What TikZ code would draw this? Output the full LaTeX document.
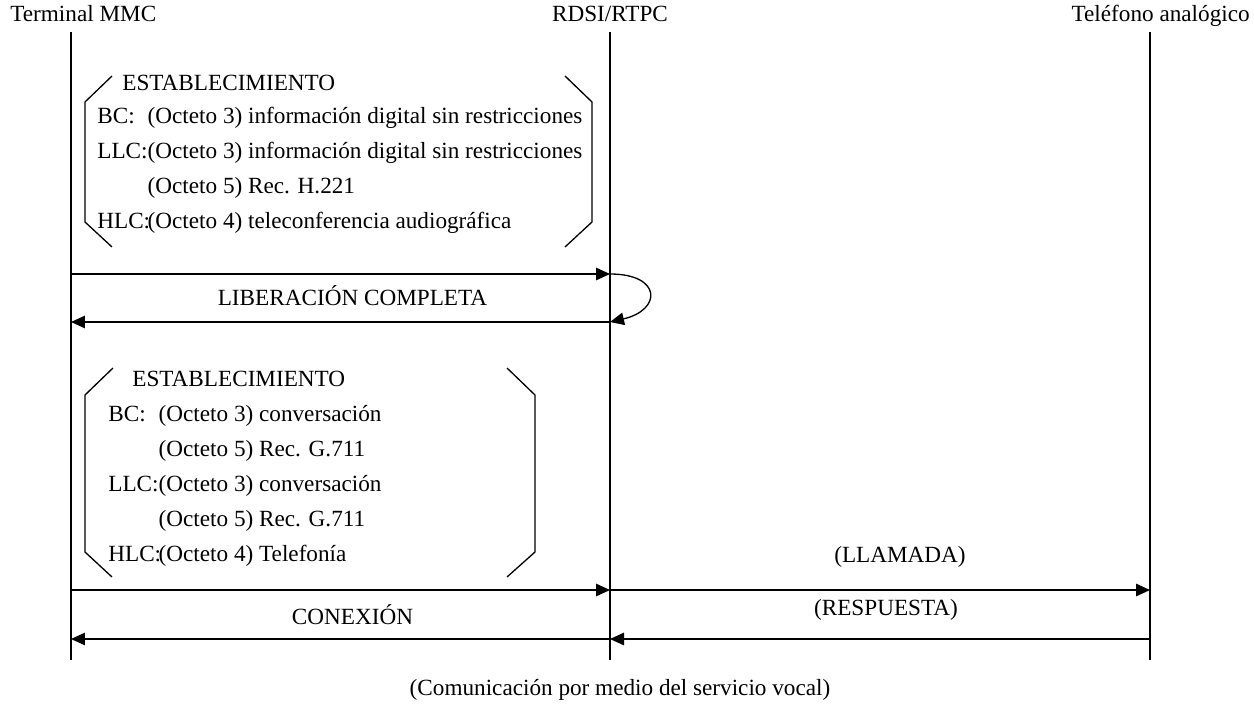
\documentclass[tikz,border=0pt]{standalone}
\usepackage{fontspec}
\setmainfont{Liberation Serif}
\usetikzlibrary{arrows.meta}
\newcommand{\msgfont}{\fontsize{13.2}{15}\selectfont}
\newcommand{\octlab}[1]{\makebox[2.17em][l]{#1}}

\begin{document}
\begin{tikzpicture}[x=0.02cm, y=-0.02cm,
    hdr/.style={font=\msgfont, inner sep=0pt},
    txt/.style={font=\msgfont, anchor=west, inner sep=0pt},
    lbl/.style={font=\msgfont, inner sep=0pt},
    life/.style={line width=0.75pt},
    brk/.style={line width=0.75pt},
    msg/.style={->, line width=0.75pt},
    >={Triangle[length=2.8mm, width=2.5mm]}]
    \useasboundingbox (0,0) rectangle (1254,706);
    % participants
    \node[hdr, anchor=base west] (mmc) at (10,22) {Terminal MMC};
    \node[hdr, anchor=base] (rdsi) at (610,22) {RDSI/RTPC};
    \node[hdr, anchor=base east] (tel) at (1250,22) {Teléfono analógico};
    \coordinate (mmcT) at (71,32);   \coordinate (mmcB) at (71,660);
    \coordinate (rdsiT) at (610,32); \coordinate (rdsiB) at (610,660);
    \coordinate (telT) at (1150,32); \coordinate (telB) at (1150,660);
    \draw[life] (mmcT) -- (mmcB);
    \draw[life] (rdsiT) -- (rdsiB);
    \draw[life] (telT) -- (telB);
    % first establishment
    \draw[brk] (112,76) -- (85,102) -- (85,222) -- (112,247);
    \draw[brk] (565,76) -- (592,102) -- (592,222) -- (565,247);
    \node[txt] (est1) at (122,83) {ESTABLECIMIENTO};
    \node[txt] (bc1) at (97,118) {\octlab{BC:}(Octeto 3) información digital sin restricciones};
    \node[txt] (llc1) at (97,153) {\octlab{LLC:}(Octeto 3) información digital sin restricciones};
    \node[txt] (llc1b) at (97,188) {\octlab{}(Octeto 5) Rec. H.221};
    \node[txt] (hlc1) at (97,223) {\octlab{HLC:}(Octeto 4) teleconferencia audiográfica};
    \coordinate (m1) at (71,274);  \coordinate (r1) at (610,274);
    \coordinate (m2) at (71,322);  \coordinate (r2) at (610,322);
    \draw[msg] (m1) -- (r1);
    \draw[msg] (r1) .. controls (662,274) and (662,310) .. (r2);
    \draw[msg] (r2) -- node[lbl, above=9pt, xshift=0.24cm] (lib) {LIBERACIÓN COMPLETA} (m2);
    % second establishment
    \draw[brk] (113,368) -- (85,395) -- (85,552) -- (112,577);
    \draw[brk] (507,368) -- (535,395) -- (535,552) -- (507,577);
    \node[txt] (est2) at (132,379) {ESTABLECIMIENTO};
    \node[txt] (bc2) at (108,416) {\octlab{BC:}(Octeto 3) conversación};
    \node[txt] (bc2b) at (108,451) {\octlab{}(Octeto 5) Rec. G.711};
    \node[txt] (llc2) at (108,486) {\octlab{LLC:}(Octeto 3) conversación};
    \node[txt] (llc2b) at (108,521) {\octlab{}(Octeto 5) Rec. G.711};
    \node[txt] (hlc2) at (108,556) {\octlab{HLC:}(Octeto 4) Telefonía};
    \coordinate (m3) at (71,590);   \coordinate (r3) at (610,590);  \coordinate (t3) at (1150,590);
    \coordinate (m4) at (71,639);   \coordinate (r4) at (610,639);  \coordinate (t4) at (1150,639);
    \draw[msg] (m3) -- (r3);
    \draw[msg] (r3) -- (t3);
    \node[lbl] (llam) at (900,557) {(LLAMADA)};
    \draw[msg] (r4) -- node[lbl, above=8pt, xshift=0.24cm] (con) {CONEXIÓN} (m4);
    \draw[msg] (t4) -- (r4);
    \node[lbl] (resp) at (886,610) {(RESPUESTA)};
    \node[lbl] (nota) at (620,690) {(Comunicación por medio del servicio vocal)};
\end{tikzpicture}
\end{document}
